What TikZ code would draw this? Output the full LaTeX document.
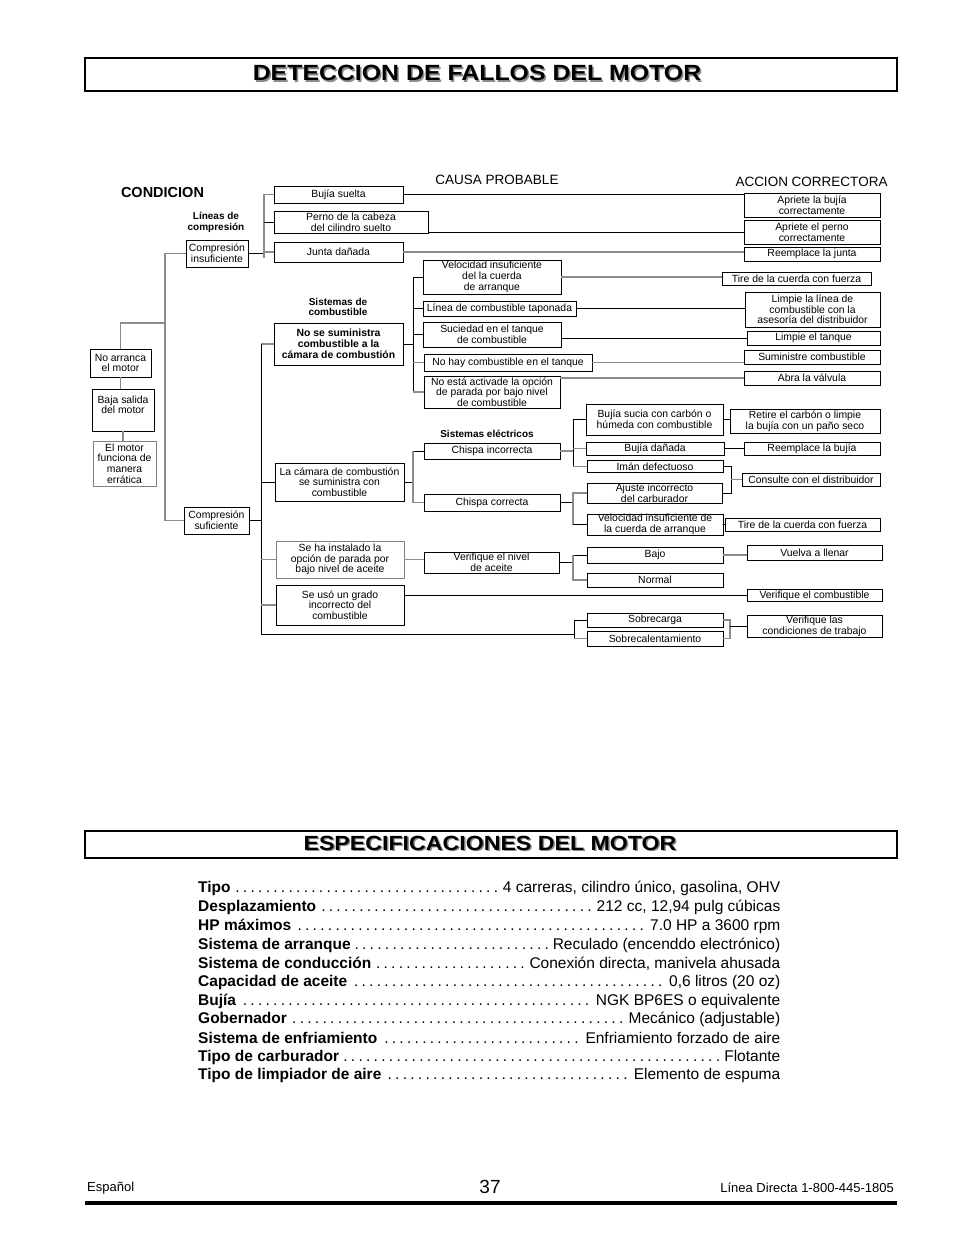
\documentclass[tikz,border=0pt]{standalone}
\usepackage{fontspec}
\setmainfont{Liberation Sans}
\newfontfamily\headfont[FakeStretch=1.13]{Liberation Sans}
\usepackage{tikz}

\newcommand{\boxfont}{\fontsize{10.4}{10.7}\selectfont}
\newcommand{\dotlead}{\cleaders\hbox to 7.6pt{\hss.\hss}\hfill}
\newcommand{\specline}[2]{\hbox to 582pt{\textbf{#1}\hskip 2pt\dotlead\hskip 2pt #2}}

\begin{document}
\begin{tikzpicture}[x=1pt, y=-1pt, line join=miter]

\useasboundingbox (0,0) rectangle (954,1235);

\tikzset{
  cbox/.style 2 args={draw, line width=0.9pt, inner sep=0pt, align=center,
                      font=\boxfont, minimum width=#1, minimum height=#2},
  wire/.style={line width=0.9pt},
  wireg/.style={line width=1.3pt, black!45},
  colhead/.style={inner sep=0pt, font=\fontsize{13.5}{15}\selectfont},
  subhead/.style={inner sep=0pt, align=center,
                  font=\fontsize{10}{10.8}\selectfont\bfseries},
  titlebox/.style={draw, line width=1.1pt, minimum width=812},
  titletxt/.style={inner sep=0pt},
  spec/.style={anchor=west, inner sep=0pt, font=\fontsize{15.5}{18}\selectfont},
  foot/.style={inner sep=0pt, font=\fontsize{13}{15}\selectfont},
}

% titles
\node[titlebox, minimum height=33] (tbox1) at (491,74.5) {};
\node[titletxt, black!45, font=\headfont\bfseries\fontsize{22}{24}\selectfont] (tsh1) at (478.5,74.5) {DETECCION DE FALLOS DEL MOTOR};
\node[titletxt, font=\headfont\bfseries\fontsize{22}{24}\selectfont] (ttl1) at (477,73) {DETECCION DE FALLOS DEL MOTOR};
\node[titlebox, minimum height=27] (tbox2) at (491,844.5) {};
\node[titletxt, black!45, font=\headfont\bfseries\fontsize{20.5}{22}\selectfont] (tsh2) at (491.5,844.5) {ESPECIFICACIONES DEL MOTOR};
\node[titletxt, font=\headfont\bfseries\fontsize{20.5}{22}\selectfont] (ttl2) at (490,843) {ESPECIFICACIONES DEL MOTOR};

% column heads
\node[colhead, font=\fontsize{14.5}{16}\selectfont\bfseries] (hcond) at (162.5,193) {CONDICION};
\node[colhead] (hcausa) at (497,180) {CAUSA PROBABLE};
\node[colhead] (haccion) at (811.5,182) {ACCION CORRECTORA};
\node[subhead] (hlin) at (216,222) {Líneas de\\compresión};
\node[subhead] (hsis) at (338,307) {Sistemas de\\combustible};
\node[subhead] (hele) at (487,434) {Sistemas eléctricos};

% condicion
\node[cbox={61}{28}] (noarr) at (120.5,363) {No arranca\\el motor};
\node[cbox={62}{42}] (baja) at (123,410) {Baja salida\\del motor\\\mbox{}};
\node[cbox={63}{45}, draw=black!50] (errat) at (124.5,463.5) {El motor\\funciona de\\manera\\errática};
\node[cbox={62}{27}] (cinsuf) at (217,253.5) {Compresión\\insuficiente};
\node[cbox={65}{27}] (csuf) at (216.5,520.5) {Compresión\\suficiente};

% causa probable
\node[cbox={129}{17}] (bujia) at (338.5,194.5) {Bujía suelta};
\node[cbox={154}{22}] (perno) at (351,222) {Perno de la cabeza\\del cilindro suelto};
\node[cbox={129}{20}] (junta) at (338.5,252) {Junta dañada};
\node[cbox={129}{42}, font=\fontsize{10.4}{10.8}\selectfont\bfseries] (nosum) at (338.5,344) {No se suministra\\combustible a la\\cámara de combustión};
\node[cbox={129}{38}] (camara) at (339.5,482) {La cámara de combustión\\se suministra con\\combustible};
\node[cbox={128}{37}, draw=black!50] (instal) at (340,559.5) {Se ha instalado la\\opción de parada por\\bajo nivel de aceite};
\node[cbox={128}{40}] (grado) at (340,605) {Se usó un grado\\incorrecto del\\combustible};

\node[cbox={138}{34}] (vel1) at (492,277) {Velocidad insuficiente\\del la cuerda\\de arranque};
\node[cbox={153}{15}] (linea) at (499.5,308.5) {Línea de combustible taponada};
\node[cbox={138}{25}] (sucied) at (492,334.5) {Suciedad en el tanque\\de combustible};
\node[cbox={168}{17}] (nohay) at (508,362.5) {No hay combustible en el tanque};
\node[cbox={136}{32}] (noact) at (492,392) {No está activade la opción\\de parada por bajo nivel\\de combustible};
\node[cbox={136}{16}] (chinc) at (492,451) {Chispa incorrecta};
\node[cbox={136}{17}] (chcor) at (492,502.5) {Chispa correcta};
\node[cbox={135}{21}] (nivel) at (491.5,562.5) {Verifique el nivel\\de aceite};

\node[cbox={137}{31}] (sucia) at (654.5,419.5) {Bujía sucia con carbón o\\húmeda con combustible};
\node[cbox={138}{13}] (bdan) at (655,448.5) {Bujía dañada};
\node[cbox={136}{12}] (iman) at (655,466.5) {Imán defectuoso};
\node[cbox={135}{20}] (ajuste) at (654.5,493) {Ajuste incorrecto\\del carburador};
\node[cbox={136}{21}] (vel2) at (655,524.5) {Velocidad insuficiente de\\la cuerda de arranque};
\node[cbox={136}{16}] (bajo) at (655,555) {Bajo};
\node[cbox={136}{14}] (normal) at (655,580) {Normal};
\node[cbox={136}{14}] (sobrec) at (655,620) {Sobrecarga};
\node[cbox={136}{15}] (sobrecal) at (655,638.5) {Sobrecalentamiento};

% accion correctora
\node[cbox={136}{24}] (a1) at (812,205) {Apriete la bujía\\correctamente};
\node[cbox={136}{24}] (a2) at (812,232) {Apriete el perno\\correctamente};
\node[cbox={136}{14}] (a3) at (812,254) {Reemplace la junta};
\node[cbox={149}{13}] (a4) at (796.5,278.5) {Tire de la cuerda con fuerza};
\node[cbox={135}{35}] (a5) at (812.5,309.5) {Limpie la línea de\\combustible con la\\asesoría del distribuidor};
\node[cbox={133}{14}] (a6) at (813.5,338) {Limpie el tanque};
\node[cbox={136}{14}] (a7) at (812,357) {Suministre combustible};
\node[cbox={136}{14}] (a8) at (812,378) {Abra la válvula};
\node[cbox={150}{24}] (a9) at (805,421) {Retire el carbón o limpie\\la bujía con un paño seco};
\node[cbox={136}{13}] (a10) at (812,448.5) {Reemplace la bujía};
\node[cbox={138}{13}] (a11) at (811,479.5) {Consulte con el distribuidor};
\node[cbox={155}{13}] (a12) at (802.5,524.5) {Tire de la cuerda con fuerza};
\node[cbox={135}{15}] (a13) at (814.5,552.5) {Vuelva a llenar};
\node[cbox={135}{12}] (a14) at (814.5,595.5) {Verifique el combustible};
\node[cbox={135}{22}] (a15) at (814.5,626) {Verifique las\\condiciones de trabajo};

% fork points
\coordinate (kn) at (165,323);
\coordinate (fa) at (264,258);
\coordinate (fb) at (261,634);
\coordinate (fc) at (574,0);
\coordinate (fd) at (413,0);
\coordinate (fq) at (573,0);
\coordinate (jd) at (730,0);
\coordinate (jh) at (731,0);

% condicion
\draw[wireg] (noarr.south) -- (noarr.south |- baja.north);
\draw[wireg] (baja.south) -- (baja.south |- errat.north);
\draw[wireg] (noarr.north) |- (kn);
\draw[wireg] (cinsuf.west) -| (kn) |- (csuf.west);

% compresion insuficiente
\draw[wire] (cinsuf.east) -- (cinsuf.east -| fa);
\draw[wireg] (bujia.west) -| (fa);
\draw[wire] (perno.west) -- (perno.west -| fa);
\draw[wireg] (junta.west) -- (junta.west -| fa);
\draw[wire] (bujia.east) -- (bujia.east -| a1.west);
\draw[wire] (a2.west) -- (a2.west -| perno.east);
\draw[wireg] (junta.east) -- (junta.east -| a3.west);

% compresion suficiente
\draw[wire] (csuf.east) -- (csuf.east -| fb);
\draw[wireg] (nosum.west) -- (nosum.west -| fb);
\draw[wire] (nosum.west -| fb) -- (fb) -- (fb -| fc);
\draw[wire] (camara.west) -- (camara.west -| fb);
\draw[wireg] (instal.west) -- (instal.west -| fb);
\draw[wireg] (grado.west) -- (grado.west -| fb);

% combustible
\draw[wire] (nosum.east) -- (nosum.east -| fd);
\draw[wire] (vel1.west) -| (fd |- noact.west);
\draw[wireg] (fd |- noact.west) -- (noact.west);
\draw[wire] (linea.west) -- (linea.west -| fd);
\draw[wire] (sucied.west) -- (sucied.west -| fd);
\draw[wireg] (nohay.west) -- (nohay.west -| fd);
\draw[wireg] (vel1.east) -- (vel1.east -| a4.west);
\draw[wire] (linea.east) -- (linea.east -| a5.west);
\draw[wire] (a6.west) -- (a6.west -| sucied.east);
\draw[wireg] (nohay.east) -- (nohay.east -| a7.west);
\draw[wireg] (a8.west) -- (a8.west -| noact.east);

% electricos
\draw[wire] (camara.east) -- (camara.east -| fd);
\draw[wire] (chinc.west) -- (chinc.west -| fd);
\draw[wireg] (chinc.west -| fd) |- (chcor.west);
\draw[wireg] (chinc.east) -- (chinc.east -| fq);
\draw[wire] (sucia.west) -| (fq |- iman.west);
\draw[wireg] (fq |- iman.west) -- (iman.west);
\draw[wireg] (bdan.west) -- (bdan.west -| fq);
\draw[wire] (chcor.east) -- (chcor.east -| fq);
\draw[wireg] (ajuste.west) -| (fq |- vel2.west);
\draw[wire] (fq |- vel2.west) -- (vel2.west);
\draw[wire] (sucia.east) -- (sucia.east -| a9.west);
\draw[wire] (bdan.east) -- (bdan.east -| a10.west);
\draw[wire] (iman.east) -| (jh |- ajuste.east) -- (ajuste.east);
\draw[wireg] (a11.west) -- (a11.west -| jh);
\draw[wire] (vel2.east) -- (vel2.east -| a12.west);

% aceite, grado, sobrecarga
\draw[wireg] (instal.east) -- (instal.east -| nivel.west);
\draw[wire] (nivel.east) -- (nivel.east -| fq);
\draw[wire] (bajo.west) -- (bajo.west -| fq);
\draw[wireg] (bajo.west -| fq) |- (normal.west);
\draw[wireg] (bajo.east) -- (bajo.east -| a13.west);
\draw[wire] (a14.west) -- (a14.west -| grado.east);
\draw[wire] (sobrec.west) -| (fc |- sobrecal.west);
\draw[wireg] (fc |- sobrecal.west) -- (sobrecal.west);
\draw[wireg] (sobrec.east) -| (jd |- sobrecal.east) -- (sobrecal.east);
\draw[wire] (a15.west) -- (a15.west -| jd);

% especificaciones
\node[spec] (s1) at (198,888) {\specline{Tipo}{4 carreras, cilindro único, gasolina, OHV}};
\node[spec] (s2) at (198,907) {\specline{Desplazamiento}{212 cc, 12,94 pulg cúbicas}};
\node[spec] (s3) at (198,926) {\specline{HP máximos}{7.0 HP a 3600 rpm}};
\node[spec] (s4) at (198,945) {\specline{Sistema de arranque}{Reculado (encenddo electrónico)}};
\node[spec] (s5) at (198,963.5) {\specline{Sistema de conducción}{Conexión directa, manivela ahusada}};
\node[spec] (s6) at (198,982) {\specline{Capacidad de aceite}{0,6 litros (20 oz)}};
\node[spec] (s7) at (198,1001) {\specline{Bujía}{NGK BP6ES o equivalente}};
\node[spec] (s8) at (198,1019.5) {\specline{Gobernador}{Mecánico (adjustable)}};
\node[spec] (s9) at (198,1038) {\specline{Sistema de enfriamiento}{Enfriamiento forzado de aire}};
\node[spec] (s10) at (198,1057) {\specline{Tipo de carburador}{Flotante}};
\node[spec] (s11) at (198,1075.5) {\specline{Tipo de limpiador de aire}{Elemento de espuma}};

% pie
\node[foot, anchor=west] (lang) at (87,1188) {Español};
\node[foot, font=\fontsize{19}{21}\selectfont] (pg) at (490,1187) {37};
\node[foot, anchor=east] (tel) at (894,1188) {Línea Directa 1-800-445-1805};
\draw[line width=4pt] (85,1203) -- (897,1203);

\end{tikzpicture}
\end{document}
